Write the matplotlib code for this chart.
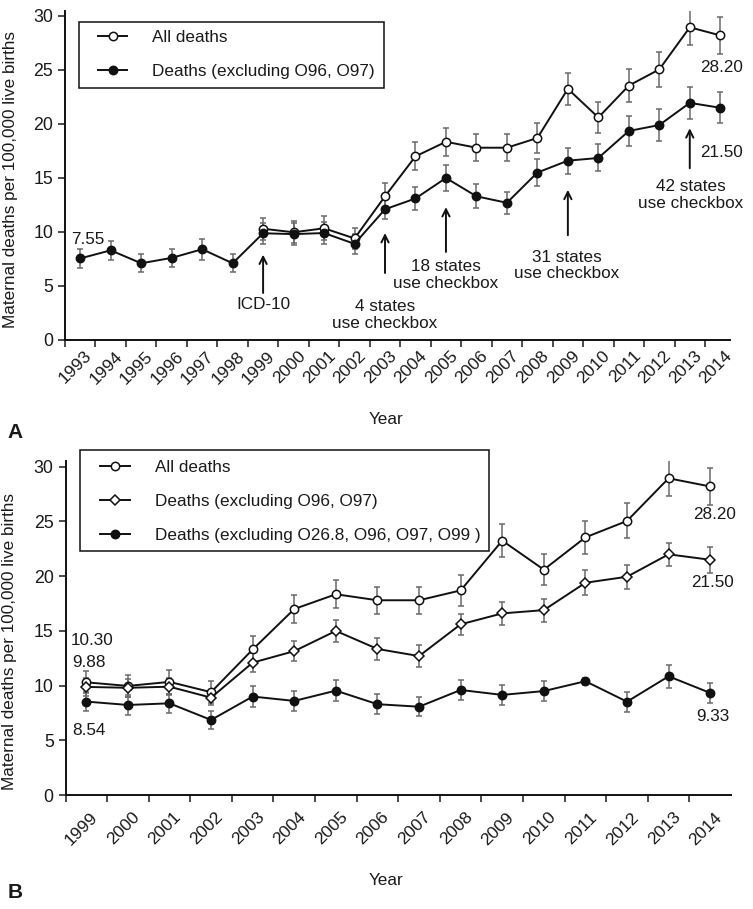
import numpy as np
import matplotlib
matplotlib.use("Agg")
import matplotlib.pyplot as plt
import matplotlib.transforms as mtransforms
from matplotlib.patches import Rectangle

plt.rcParams['font.family'] = ['Liberation Sans', 'DejaVu Sans']
plt.rcParams['font.size'] = 12.3
plt.rcParams['text.color'] = '#1a1a1a'
plt.rcParams['axes.labelcolor'] = '#1a1a1a'
plt.rcParams['xtick.color'] = '#1a1a1a'
plt.rcParams['ytick.color'] = '#1a1a1a'

# === Dati ===
years_a = list(range(1993, 2015))
years_b = list(range(1999, 2015))

# pannello A
all_deaths = [10.30, 9.97, 10.34, 9.40, 13.30, 17.00, 18.35, 17.80, 17.80, 18.70,
              23.25, 20.60, 23.55, 25.05, 28.95, 28.20]
all_err = [1.0, 1.0, 1.1, 1.0, 1.2, 1.3, 1.3, 1.25, 1.25, 1.4, 1.5, 1.4, 1.5, 1.6, 1.65, 1.7]
excl_a = [7.55, 8.30, 7.10, 7.60, 8.40, 7.10, 9.88, 9.80, 9.90, 8.90, 12.10, 13.10,
          15.00, 13.30, 12.70, 15.50, 16.60, 16.85, 19.35, 19.90, 21.95, 21.50]
excl_a_err = [0.85, 0.9, 0.85, 0.85, 0.95, 0.85, 0.95, 1.0, 1.0, 0.9, 0.9, 1.1,
              1.2, 1.1, 1.0, 1.25, 1.2, 1.25, 1.35, 1.45, 1.5, 1.45]

# pannello B
excl_b = [9.88, 9.80, 9.90, 8.90, 12.10, 13.15, 15.00, 13.35, 12.70, 15.60, 16.60,
          16.90, 19.40, 19.95, 22.00, 21.50]
excl_b_err = [0.8, 0.8, 0.8, 0.7, 0.9, 0.9, 1.0, 1.0, 1.0, 0.95, 1.05, 1.05, 1.15, 1.1, 1.05, 1.2]
excl2_b = [8.54, 8.23, 8.38, 6.86, 9.00, 8.60, 9.54, 8.30, 8.07, 9.60, 9.15, 9.50,
           10.40, 8.53, 10.85, 9.33]
excl2_b_err = [0.85, 0.9, 0.85, 0.8, 0.95, 0.9, 0.95, 0.9, 0.85, 0.95, 0.9, 0.95,
               0.3, 0.9, 1.05, 0.95]

lab_all = "All deaths"
lab_excl = "Deaths (excluding O96, O97)"
lab_excl2 = "Deaths (excluding O26.8, O96, O97, O99 )"

LINE = '#111111'
ERR = '#6a6a6a'


def xpos(years, first):
    return [y - first + 0.5 for y in years]


def serie(ax, x, y, err, marker, face, label, ms=6.0):
    ax.errorbar(x, y, yerr=err, fmt='none', ecolor=ERR, elinewidth=1.1,
                capsize=2.4, capthick=1.1, zorder=2)
    ax.plot(x, y, color=LINE, lw=1.4, marker=marker, ms=ms, mfc=face,
            mec=LINE, mew=1.1, label=label, zorder=3)


def setup_axes(ax, first, n, xmax, pad_pt, dx_px):
    ax.set_xlim(0, xmax)
    ax.set_ylim(0, 30.5)
    ax.set_yticks([0, 5, 10, 15, 20, 25, 30])
    ax.spines['top'].set_visible(False)
    ax.spines['right'].set_visible(False)
    for s in ('left', 'bottom'):
        ax.spines[s].set_linewidth(1.4)
        ax.spines[s].set_color(LINE)
    ax.set_xticks(np.arange(n))
    ax.set_xticklabels([])
    ax.set_xticks(np.arange(n) + 0.5, [str(first + i) for i in range(n)], minor=True)
    ax.tick_params(axis='x', which='minor', length=0, pad=pad_pt, labelsize=12.6)
    ax.tick_params(axis='both', which='major', length=5, width=1.1, direction='out',
                   labelsize=12.8)
    off = mtransforms.ScaledTranslation(dx_px / 100, 0, ax.figure.dpi_scale_trans)
    for t in ax.get_xticklabels(minor=True):
        t.set_rotation(45)
        t.set_ha('right')
        t.set_va('top')
        t.set_rotation_mode('anchor')
        t.set_transform(t.get_transform() + off)
    ax.set_ylabel("Maternal deaths per 100,000 live births", fontsize=12.3)
    ax.set_xlabel("Year", fontsize=12.3)


def freccia(ax, x, y0, y1):
    ax.annotate('', xy=(x, y1), xytext=(x, y0),
                arrowprops=dict(arrowstyle='->', lw=1.4, color=LINE, mutation_scale=13,
                                shrinkA=0, shrinkB=0))


def legenda(ax, box, anchor):
    x0, y0, x1, y1 = box
    ax.add_patch(Rectangle((x0, y0), x1 - x0, y1 - y0, transform=ax.transAxes,
                           fc='white', ec=LINE, lw=1.1, clip_on=False, zorder=4))
    leg = ax.legend(loc='upper left', bbox_to_anchor=anchor, frameon=False,
                    handlelength=1.75, handletextpad=1.45, borderpad=0,
                    labelspacing=1.12, fontsize=12.3, borderaxespad=0)
    leg.set_zorder(5)


fig = plt.figure(figsize=(7.53, 9.09), dpi=100)
axA = fig.add_axes([65 / 753, 0.626, 665 / 753, 0.3624])
axB = fig.add_axes([65.5 / 753, 0.1254, 665.5 / 753, 0.3671])

# === Pannello A ===
setup_axes(axA, 1993, len(years_a), 21.82, 6.0, 4)
serie(axA, xpos(years_b, 1993), all_deaths, all_err, 'o', 'white', lab_all)
serie(axA, xpos(years_a, 1993), excl_a, excl_a_err, 'o', LINE, lab_excl)

axA.text(0.74, 9.3, "7.55", ha='center', va='center')
axA.text(21.55, 25.2, "28.20", ha='center', va='center')
axA.text(21.55, 17.4, "21.50", ha='center', va='center')
axA.text(6.5, 3.3, "ICD-10", ha='center', va='center')
axA.text(10.5, 2.3, "4 states\nuse checkbox", ha='center', va='center', linespacing=1.15)
axA.text(12.5, 6.0, "18 states\nuse checkbox", ha='center', va='center', linespacing=1.15)
axA.text(16.47, 6.9, "31 states\nuse checkbox", ha='center', va='center', linespacing=1.15)
axA.text(20.54, 13.4, "42 states\nuse checkbox", ha='center', va='center', linespacing=1.15)
freccia(axA, 6.5, 4.35, 7.9)
freccia(axA, 10.5, 6.2, 9.9)
freccia(axA, 12.5, 8.15, 12.3)
freccia(axA, 16.5, 9.7, 13.9)
freccia(axA, 20.5, 15.9, 19.6)

legenda(axA, (0.021, 0.765, 0.479, 0.965), (0.049, 0.940))

axA.yaxis.set_label_coords(-0.071, 0.486)
axA.xaxis.set_label_coords(0.483, -0.219)

# === Pannello B ===
setup_axes(axB, 1999, len(years_b), 16.0, 10.5, 4)
serie(axB, xpos(years_b, 1999), all_deaths, all_err, 'o', 'white', lab_all)
serie(axB, xpos(years_b, 1999), excl_b, excl_b_err, 'D', 'white', lab_excl, ms=5.0)
serie(axB, xpos(years_b, 1999), excl2_b, excl2_b_err, 'o', LINE, lab_excl2)

axB.text(0.65, 14.1, "10.30", ha='center', va='center')
axB.text(0.57, 12.1, "9.88", ha='center', va='center')
axB.text(0.57, 5.94, "8.54", ha='center', va='center')
axB.text(15.61, 25.6, "28.20", ha='center', va='center')
axB.text(15.56, 19.45, "21.50", ha='center', va='center')
axB.text(15.56, 7.2, "9.33", ha='center', va='center')

legenda(axB, (0.022, 0.731, 0.637, 1.034), (0.052, 1.0045))

axB.yaxis.set_label_coords(-0.073, 0.46)
axB.xaxis.set_label_coords(0.481, -0.234)

fig.text(0.02, 1 - 432 / 909, "A", fontsize=15, fontweight='bold', ha='center', va='center')
fig.text(0.02, 1 - 892 / 909, "B", fontsize=15, fontweight='bold', ha='center', va='center')

fig.savefig("out.png", dpi=100)
